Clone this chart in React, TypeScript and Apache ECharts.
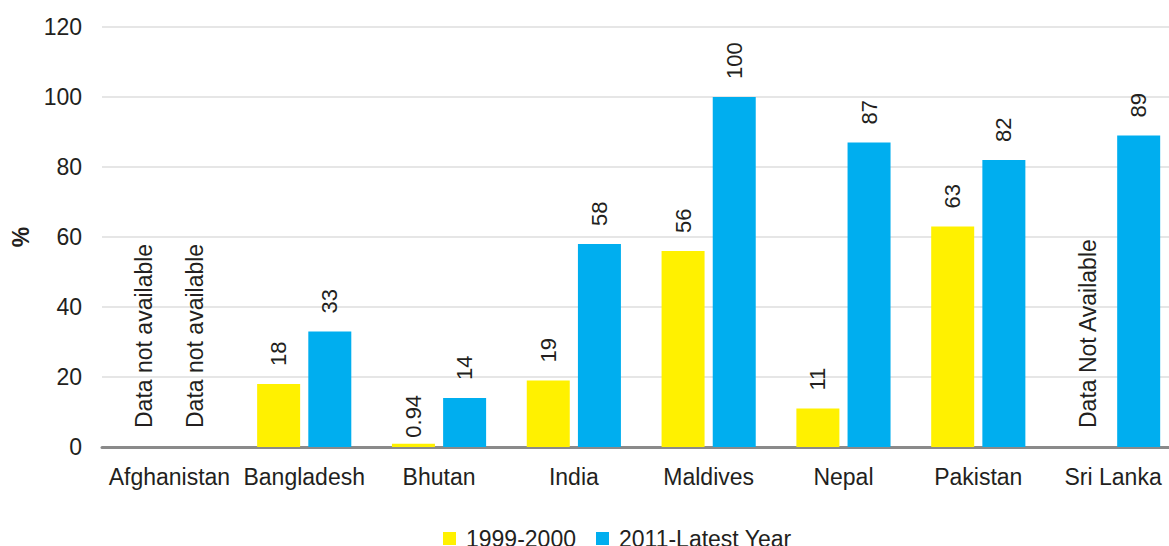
import React, { useEffect, useRef } from "react";
import * as echarts from "echarts";

const categories = ["Afghanistan", "Bangladesh", "Bhutan", "India", "Maldives", "Nepal", "Pakistan", "Sri Lanka"];
const seriesNames = ["1999-2000", "2011-Latest Year"];
const values1999: (number | null)[] = [null, 18, 0.94, 19, 56, 11, 63, null];
const valuesLatest: (number | null)[] = [null, 33, 14, 58, 100, 87, 82, 89];
const notes1999 = ["Data not available", "", "", "", "", "", "", "Data Not Available"];
const notesLatest = ["Data not available", "", "", "", "", "", "", ""];
const yTicks = { min: 0, max: 120, interval: 20 };

const FONT = '"Liberation Sans", Arial, sans-serif';
const TEXT = "#231f20";

function buildData(vals: (number | null)[], notes: string[]) {
  return vals.map((v, i) => {
    if (v === null) {
      return {
        value: 0,
        label: { formatter: notes[i], fontSize: 23, distance: 19 },
      };
    }
    if (v < 5) {
      return { value: v, label: { distance: 6 } };
    }
    return { value: v };
  });
}

export default function App() {
  const ref = useRef<HTMLDivElement>(null);
  useEffect(() => {
    if (!ref.current) return;
    const chart = echarts.init(ref.current, undefined, { renderer: "svg" });
    const labelCommon = {
      show: true,
      position: "top",
      rotate: 90,
      align: "left",
      verticalAlign: "middle",
      distance: 18,
      fontSize: 22,
      fontFamily: FONT,
      color: TEXT,
    };
    chart.setOption({
      animation: false,
      textStyle: { fontFamily: FONT },
      grid: {
        left: 102,
        width: 1078.5,
        top: 27,
        bottom: 99,
        containLabel: false,
        outerBoundsMode: "none",
      },
      legend: {
        left: 438,
        top: 522,
        itemWidth: 13,
        itemHeight: 13,
        itemGap: 20,
        icon: "rect",
        textStyle: { fontSize: 23, fontFamily: FONT, color: TEXT, lineHeight: 23, padding: [0, 0, 0, 5] },
        data: seriesNames,
      },
      xAxis: {
        type: "category",
        data: categories,
        axisLine: { lineStyle: { color: "#8a8a8a", width: 3 } },
        axisTick: { show: false },
        axisLabel: { fontSize: 23, fontFamily: FONT, color: TEXT, margin: 18, interval: 0 },
      },
      yAxis: {
        type: "value",
        min: yTicks.min,
        max: yTicks.max,
        interval: yTicks.interval,
        name: "%",
        nameLocation: "middle",
        nameGap: 70,
        nameTextStyle: { fontSize: 23, fontWeight: "bold", fontFamily: FONT, color: TEXT },
        axisLine: { show: false },
        axisTick: { show: false },
        axisLabel: { fontSize: 23, fontFamily: FONT, color: TEXT, margin: 20 },
        splitLine: { lineStyle: { color: "#e6e6e6", width: 2 } },
      },
      series: [
        {
          name: seriesNames[0],
          type: "bar",
          barWidth: 43,
          barGap: "19%",
          itemStyle: { color: "#fff100" },
          label: labelCommon,
          data: buildData(values1999, notes1999),
        },
        {
          name: seriesNames[1],
          type: "bar",
          barWidth: 43,
          barGap: "19%",
          itemStyle: { color: "#00aeef" },
          label: labelCommon,
          data: buildData(valuesLatest, notesLatest),
        },
      ],
    });
    return () => chart.dispose();
  }, []);
  return (
    <div
      ref={ref}
      style={{ position: "absolute", left: 0, top: 0, width: 1169, height: 546, overflow: "hidden", background: "#fff" }}
    />
  );
}
